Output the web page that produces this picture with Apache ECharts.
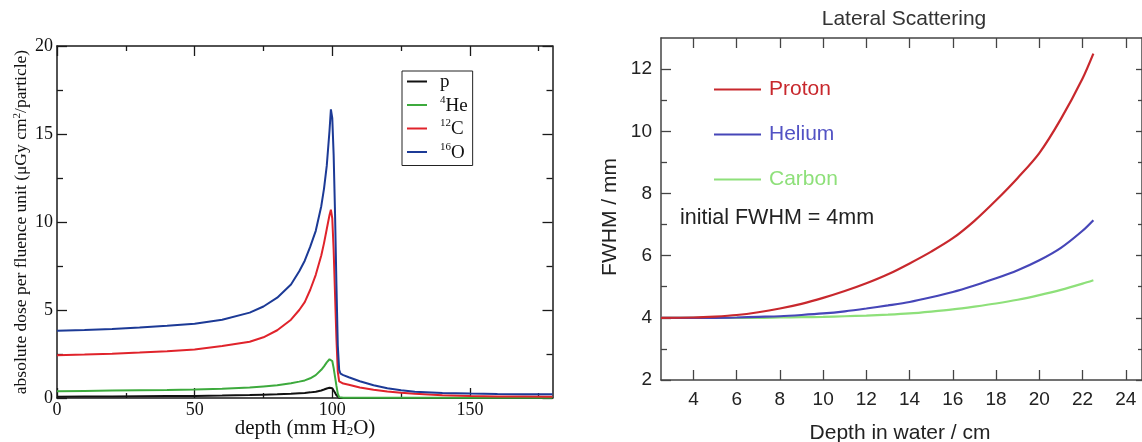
<!DOCTYPE html>
<html>
<head>
<meta charset="utf-8">
<script src="https://cdn.jsdelivr.net/npm/echarts@6/dist/echarts.min.js"></script>
<style>
html,body{margin:0;padding:0;background:#fff;}
#c{width:1142px;height:442px;}
</style>
</head>
<body>
<div id="c"></div>
<script>
// ---------- Left panel: depth-dose curves ----------
const depthL = [0, 10, 20, 30, 40, 50, 60, 70, 75, 80, 85, 88, 90, 92, 94, 96, 97, 98, 99, 99.5, 100, 100.5, 101, 101.5, 102, 102.5, 103, 104, 106, 110, 115, 120, 125, 130, 140, 150, 160, 170, 180];
const doseP  = [0.07, 0.08, 0.09, 0.10, 0.11, 0.12, 0.14, 0.17, 0.19, 0.21, 0.24, 0.27, 0.29, 0.32, 0.36, 0.43, 0.48, 0.54, 0.58, 0.59, 0.55, 0.45, 0.30, 0.15, 0.04, 0.01, 0, 0, 0, 0, 0, 0, 0, 0, 0, 0, 0, 0, 0];
const doseHe = [0.38, 0.40, 0.42, 0.44, 0.46, 0.49, 0.53, 0.60, 0.66, 0.72, 0.84, 0.93, 1.00, 1.12, 1.30, 1.60, 1.80, 2.02, 2.20, 2.24, 2.10, 1.70, 1.20, 0.70, 0.25, 0.05, 0.02, 0.02, 0.02, 0.02, 0.02, 0.02, 0.02, 0.02, 0.02, 0.02, 0.02, 0.02, 0.02];
const doseC  = [2.43, 2.47, 2.52, 2.58, 2.66, 2.76, 2.95, 3.20, 3.45, 3.85, 4.45, 5.00, 5.45, 6.15, 7.00, 8.10, 8.80, 9.60, 10.4, 10.7, 10.2, 8.4, 5.9, 3.4, 1.5, 0.95, 0.88, 0.82, 0.75, 0.60, 0.47, 0.37, 0.30, 0.24, 0.16, 0.11, 0.09, 0.08, 0.07];
const doseO  = [3.82, 3.86, 3.92, 4.00, 4.10, 4.22, 4.45, 4.85, 5.20, 5.70, 6.45, 7.20, 7.80, 8.60, 9.50, 10.9, 11.9, 13.2, 15.2, 16.4, 15.9, 13.8, 10.5, 6.5, 3.0, 1.6, 1.38, 1.30, 1.18, 0.95, 0.72, 0.55, 0.44, 0.36, 0.28, 0.25, 0.23, 0.22, 0.21];
const namesL = ['p', 'He', 'C', 'O'];
const massL  = ['', '4', '12', '16'];
const xTicksL = [0, 50, 100, 150];
const xMinorL = [25, 75, 125, 175];
const yTicksL = [0, 5, 10, 15, 20];
const yMinorL = [2.5, 7.5, 12.5, 17.5];

// ---------- Right panel: lateral scattering ----------
const depthR   = [2.5, 4, 5, 6, 7, 8, 9, 10, 11, 12, 13, 14, 15, 16, 17, 18, 19, 20, 21, 22, 22.5];
const fwhmProton = [4.00, 4.01, 4.04, 4.09, 4.18, 4.30, 4.45, 4.64, 4.86, 5.11, 5.40, 5.75, 6.13, 6.56, 7.12, 7.78, 8.50, 9.30, 10.4, 11.7, 12.5];
const fwhmHelium = [4.00, 4.00, 4.00, 4.01, 4.03, 4.05, 4.09, 4.14, 4.21, 4.30, 4.40, 4.51, 4.66, 4.83, 5.04, 5.27, 5.53, 5.85, 6.25, 6.80, 7.14];
const fwhmCarbon = [4.00, 4.00, 4.00, 4.00, 4.00, 4.01, 4.02, 4.03, 4.05, 4.07, 4.10, 4.14, 4.20, 4.27, 4.36, 4.46, 4.58, 4.73, 4.90, 5.10, 5.21];
const namesR = ['Proton', 'Helium', 'Carbon'];
const xTicksR = [4, 6, 8, 10, 12, 14, 16, 18, 20, 22, 24];
const yTicksR = [2, 4, 6, 8, 10, 12];
const yMinorR = [3, 5, 7, 9, 11];

const colorsL = ['#111111', '#3daa3d', '#e0232b', '#1c3a96'];
const colorsR = ['#c8282d', '#4646b8', '#8ee07a'];
const textColorsR = ['#c8282d', '#5252c4', '#8ee07a'];

const serif = '"Liberation Serif", "DejaVu Serif", serif';
const sans = '"Liberation Sans", Arial, sans-serif';

const chart = echarts.init(document.getElementById('c'), null, {renderer: 'canvas'});

function ax(grid, pos, min, max, ticks, len, opts) {
  const base = {
    type: 'value', gridIndex: grid, position: pos, min: min, max: max,
    axisLine: {show: opts.line !== false, onZero: false, lineStyle: {color: opts.color, width: 1.5}},
    axisTick: {show: true, inside: true, length: len, customValues: ticks, lineStyle: {color: opts.color, width: 1.3}},
    axisLabel: {show: false},
    splitLine: {show: false}
  };
  if (opts.label) base.axisLabel = Object.assign({show: true, customValues: ticks}, opts.label);
  return base;
}

const cL = '#1a1a1a', cR = '#444';
const xAxes = [
  ax(0, 'bottom', 0, 180, xTicksL, 10, {color: cL, label: {margin: 3, fontFamily: serif, fontSize: 18, color: '#111'}}),
  ax(0, 'bottom', 0, 180, xMinorL, 5, {color: cL, line: false}),
  ax(0, 'top', 0, 180, xTicksL, 10, {color: cL}),
  ax(0, 'top', 0, 180, xMinorL, 5, {color: cL, line: false}),
  ax(1, 'bottom', 2.5, 24.75, xTicksR, 10, {color: cR, label: {margin: 10, fontFamily: sans, fontSize: 19, color: '#222'}}),
  ax(1, 'top', 2.5, 24.75, xTicksR, 10, {color: cR})
];

const yAxes = [
  ax(0, 'left', 0, 20, yTicksL, 10, {color: cL, label: {margin: 4, fontFamily: serif, fontSize: 18, color: '#111'}}),
  ax(0, 'left', 0, 20, yMinorL, 6, {color: cL, line: false}),
  ax(0, 'right', 0, 20, yTicksL, 10, {color: cL}),
  ax(0, 'right', 0, 20, yMinorL, 6, {color: cL, line: false}),
  ax(1, 'left', 2, 13, yTicksR, 10, {color: cR, label: {margin: 9, fontFamily: sans, fontSize: 19, color: '#222'}}),
  ax(1, 'left', 2, 13, yMinorR, 6, {color: cR, line: false}),
  ax(1, 'right', 2, 13, yTicksR, 6, {color: cR}),
  ax(1, 'right', 2, 13, yMinorR, 4, {color: cR, line: false})
];

const seriesL = [doseP, doseHe, doseC, doseO].map((vals, i) => ({
  name: namesL[i], type: 'line', xAxisIndex: 0, yAxisIndex: 0,
  data: depthL.map((d, j) => [d, vals[j]]),
  showSymbol: false, symbol: 'none', smooth: false,
  lineStyle: {color: colorsL[i], width: 2}, itemStyle: {color: colorsL[i]},
  silent: true, animation: false, z: 2 + i
}));

const seriesR = [fwhmProton, fwhmHelium, fwhmCarbon].map((vals, i) => ({
  name: namesR[i], type: 'line', xAxisIndex: 4, yAxisIndex: 4,
  data: depthR.map((d, j) => [d, vals[j]]),
  showSymbol: false, symbol: 'none', smooth: 0.3,
  lineStyle: {color: colorsR[i], width: 2.2}, itemStyle: {color: colorsR[i]},
  silent: true, animation: false, z: 4 - i
}));

const legendLabel = {};
namesL.forEach((n, i) => { legendLabel[n] = (massL[i] ? '{sup|' + massL[i] + '}' : '') + '{n|' + n + '}'; });

chart.setOption({
  animation: false,
  backgroundColor: '#ffffff',
  grid: [
    {left: 57, top: 46, width: 495.5, height: 352},
    {left: 661, top: 38, width: 482, height: 342}
  ],
  xAxis: xAxes,
  yAxis: yAxes,
  legend: [
    {
      data: namesL, left: 402, top: 71, orient: 'vertical', selectedMode: false,
      icon: 'rect', itemWidth: 20, itemHeight: 2, itemGap: 2.5,
      padding: [2, 5, 3, 5], borderColor: '#222', borderWidth: 1, backgroundColor: '#fff',
      formatter: n => legendLabel[n],
      textStyle: {
        padding: [0, 0, 0, 8], color: '#111', fontFamily: serif,
        rich: {
          n: {fontFamily: serif, fontSize: 19, lineHeight: 21, color: '#111', verticalAlign: 'bottom'},
          sup: {fontFamily: serif, fontSize: 11, lineHeight: 12, color: '#111', verticalAlign: 'top'}
        }
      }
    },
    {
      data: namesR.map((n, i) => ({name: n, textStyle: {color: textColorsR[i]}})),
      left: 714, top: 79, orient: 'vertical', selectedMode: false, padding: 0,
      icon: 'rect', itemWidth: 47, itemHeight: 2, itemGap: 24,
      textStyle: {fontFamily: sans, fontSize: 21, lineHeight: 21, padding: [0, 0, 0, 3]}
    }
  ],
  graphic: [
    {type: 'text', x: 21, y: 222, rotation: Math.PI / 2,
      style: {text: 'absolute dose per fluence unit (μGy cm{sup|2}/particle)', align: 'center', verticalAlign: 'middle', textAlign: 'center', textVerticalAlign: 'middle',
        fontFamily: serif, fontSize: 17.5, fill: '#111',
        rich: {sup: {fontFamily: serif, fontSize: 11, verticalAlign: 'top', fill: '#111'}}}},
    {type: 'text', x: 305, y: 428,
      style: {text: 'depth (mm H{sub|2}O)', align: 'center', verticalAlign: 'middle', textAlign: 'center', textVerticalAlign: 'middle',
        fontFamily: serif, fontSize: 21, fill: '#111',
        rich: {sub: {fontFamily: serif, fontSize: 13, verticalAlign: 'bottom', fill: '#111'}}}},
    {type: 'text', x: 904, y: 19,
      style: {text: 'Lateral Scattering', align: 'center', verticalAlign: 'middle', textAlign: 'center', textVerticalAlign: 'middle',
        fontFamily: sans, fontSize: 21, fill: '#333'}},
    {type: 'text', x: 610, y: 217, rotation: Math.PI / 2,
      style: {text: 'FWHM / mm', align: 'center', verticalAlign: 'middle', textAlign: 'center', textVerticalAlign: 'middle',
        fontFamily: sans, fontSize: 21, fill: '#222'}},
    {type: 'text', x: 900, y: 433,
      style: {text: 'Depth in water / cm', align: 'center', verticalAlign: 'middle', textAlign: 'center', textVerticalAlign: 'middle',
        fontFamily: sans, fontSize: 21, fill: '#222'}},
    {type: 'text', x: 680, y: 218,
      style: {text: 'initial FWHM = 4mm', align: 'left', verticalAlign: 'middle', textAlign: 'left', textVerticalAlign: 'middle',
        fontFamily: sans, fontSize: 21.5, fill: '#222'}}
  ],
  series: seriesL.concat(seriesR)
});
</script>
</body>
</html>
